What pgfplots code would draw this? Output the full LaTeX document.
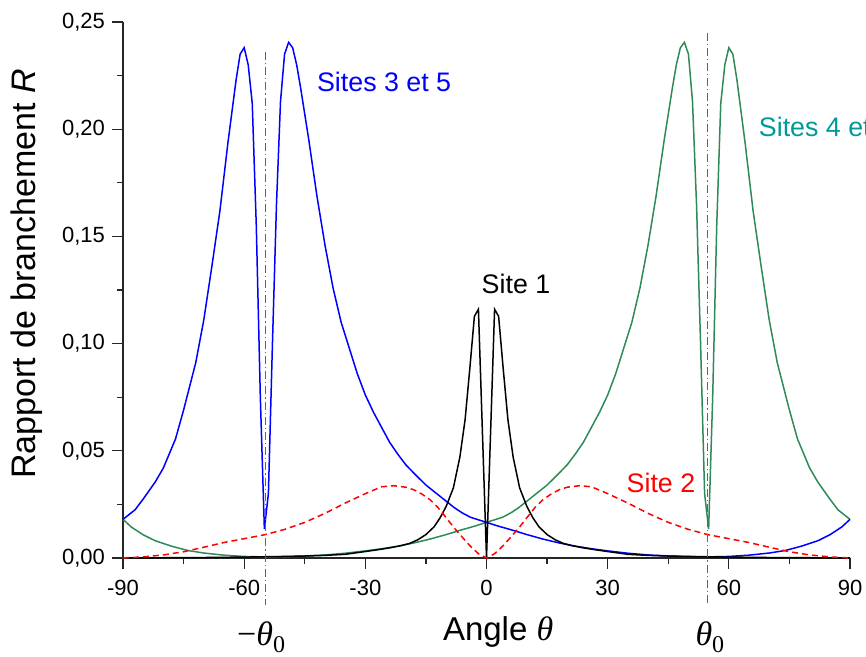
\documentclass[border=0pt]{standalone}
\usepackage{pgfplots}
\pgfplotsset{compat=1.18}
\usepackage{fontspec}
\setmainfont{Liberation Sans}
\newfontfamily\thetafont{Liberation Serif}
\definecolor{sitegreen}{RGB}{46,139,87}
\definecolor{siteteal}{RGB}{0,153,153}
\definecolor{dashgray}{RGB}{100,100,100}

\pgfplotstableread{
x y
-90 0.0180
-87 0.0225
-85 0.0275
-82 0.0355
-80 0.0420
-77 0.0555
-75 0.0690
-72 0.0910
-70 0.1110
-68 0.1360
-66 0.1620
-64 0.1940
-62 0.2230
-61 0.2350
-60 0.2380
-59 0.2300
-58 0.2120
-57 0.1550
-56 0.0750
-55 0.0135
-54 0.0300
-53 0.1000
-52 0.1650
-51 0.2130
-50 0.2350
-49 0.2405
-48 0.2380
-47 0.2300
-46 0.2190
-44 0.1950
-42 0.1690
-40 0.1460
-38 0.1260
-36 0.1100
-34 0.0980
-32 0.0860
-30 0.0760
-28 0.0680
-26 0.0610
-24 0.0540
-22 0.0485
-20 0.0435
-18 0.0396
-15 0.0340
-12 0.0295
-10 0.0265
-8 0.0235
-6 0.0210
-4 0.0190
-2 0.0178
0 0.0166
3 0.0148
6 0.0132
10 0.0109
14 0.0088
18 0.0070
22 0.0055
26 0.0043
30 0.0033
35 0.0022
40 0.0014
45 0.0009
50 0.0006
55 0.0005
60 0.0007
65 0.0013
70 0.0023
74 0.0035
78 0.0055
82 0.0080
85 0.0108
88 0.0145
90 0.0180
}\blue

\pgfplotstableread{
x y
-90 0.0180
-88 0.0145
-85 0.0108
-82 0.0080
-78 0.0055
-74 0.0035
-70 0.0023
-65 0.0013
-60 0.0007
-55 0.0005
-50 0.0006
-45 0.0009
-40 0.0014
-35 0.0022
-30 0.0033
-26 0.0043
-22 0.0055
-18 0.0070
-14 0.0088
-10 0.0109
-6 0.0132
-3 0.0148
0 0.0166
2 0.0178
4 0.0190
6 0.0210
8 0.0235
10 0.0265
12 0.0295
15 0.0340
18 0.0396
20 0.0435
22 0.0485
24 0.0540
26 0.0610
28 0.0680
30 0.0760
32 0.0860
34 0.0980
36 0.1100
38 0.1260
40 0.1460
42 0.1690
44 0.1950
46 0.2190
47 0.2300
48 0.2380
49 0.2405
50 0.2350
51 0.2130
52 0.1650
53 0.1000
54 0.0300
55 0.0135
56 0.0750
57 0.1550
58 0.2120
59 0.2300
60 0.2380
61 0.2350
62 0.2230
64 0.1940
66 0.1620
68 0.1360
70 0.1110
72 0.0910
75 0.0690
77 0.0555
80 0.0420
82 0.0355
85 0.0275
87 0.0225
90 0.0180
}\green

\pgfplotstableread{
x y
-90 0.0000
-80 0.0001
-70 0.0002
-60 0.0004
-50 0.0007
-45 0.0009
-40 0.0012
-35 0.0017
-30 0.0030
-27 0.0038
-24 0.0047
-21 0.0058
-19 0.0068
-17 0.0085
-15 0.0109
-13 0.0145
-11.5 0.0187
-10 0.0240
-8.2 0.0327
-6.6 0.0470
-5.3 0.0645
-4.1 0.0890
-3 0.1127
-2 0.1160
0 0.0000
2 0.1160
3 0.1127
4.1 0.0890
5.3 0.0645
6.6 0.0470
8.2 0.0327
10 0.0240
11.5 0.0187
13 0.0145
15 0.0109
17 0.0085
19 0.0068
21 0.0058
24 0.0047
27 0.0038
30 0.0030
35 0.0017
40 0.0012
45 0.0009
50 0.0007
60 0.0004
70 0.0002
80 0.0001
90 0.0000
}\black

\pgfplotstableread{
x y
-90 0.0000
-85 0.0005
-80 0.0014
-75 0.0029
-70 0.0050
-65 0.0072
-60 0.0090
-55 0.0108
-50 0.0133
-45 0.0166
-40 0.0208
-35 0.0256
-30 0.0300
-26 0.0332
-23 0.0337
-20 0.0330
-18 0.0318
-16 0.0298
-14 0.0272
-12 0.0235
-10 0.0188
-8 0.0140
-6 0.0097
-4 0.0055
-2 0.0020
0 0.0000
2 0.0020
4 0.0055
6 0.0097
8 0.0140
10 0.0188
12 0.0235
14 0.0272
16 0.0298
18 0.0318
20 0.0330
23 0.0337
26 0.0332
30 0.0300
35 0.0256
40 0.0208
45 0.0166
50 0.0133
55 0.0108
60 0.0090
65 0.0072
70 0.0050
75 0.0029
80 0.0014
85 0.0005
90 0.0000
}\red

\begin{document}
\begin{tikzpicture}
\begin{axis}[
    scale only axis,
    width=363.5pt, height=268pt,
    xmin=-90, xmax=90, ymin=0, ymax=0.25,
    axis lines*=left,
    axis line style={line width=0.6pt, black!85},
    xtick={-90,-60,-30,0,30,60,90},
    minor xtick={-75,-45,-15,15,45,75},
    xticklabels={-90,-60,-30,0,30,60,90},
    ytick={0,0.05,0.1,0.15,0.2,0.25},
    minor ytick={0.025,0.075,0.125,0.175,0.225},
    yticklabels={{0,00},{0,05},{0,10},{0,15},{0,20},{0,25}},
    tick align=outside,
    major tick length=5.5pt, minor tick length=3pt,
    tick style={line width=0.6pt, black!85},
    ticklabel style={font=\fontsize{11}{13}\selectfont},
    xticklabel style={yshift=-2pt},
    xlabel={Angle {\thetafont\itshape\fontsize{17}{20}\selectfont θ}},
    xlabel style={at={(rel axis cs:0.516,-0.138)}, anchor=center, font=\fontsize{16.5}{20}\selectfont},
    ylabel={Rapport de branchement \textit{R}},
    ylabel style={at={(rel axis cs:-0.132,0.53)}, anchor=center, font=\fontsize{17}{20}\selectfont},
    clip=false,
]
\addplot[sitegreen, line width=0.75pt] table {\green};
\addplot[blue, line width=0.75pt] table {\blue};
\addplot[black, line width=0.75pt] table {\black};
\addplot[red, line width=0.75pt, dash pattern=on 3pt off 2pt] table {\red};

\draw[dashgray, line width=0.5pt, dash pattern=on 4pt off 1.5pt on 0.6pt off 1.5pt]
    (axis cs:-54.74,0.236) -- (axis cs:-54.74,-0.022);
\draw[dashgray, line width=0.5pt, dash pattern=on 4pt off 1.5pt on 0.6pt off 1.5pt]
    (axis cs:54.74,0.245) -- (axis cs:54.74,-0.022);

\node[anchor=west, blue, font=\fontsize{13.4}{16}\selectfont] at (axis cs:-43.7,0.222) {Sites 3 et 5};
\node[anchor=west, siteteal, font=\fontsize{13.4}{16}\selectfont] at (axis cs:65.7,0.201) {Sites 4 et 6};
\node[black, font=\fontsize{13.4}{16}\selectfont] at (axis cs:7.3,0.1278) {Site 1};
\node[red, font=\fontsize{13.4}{16}\selectfont] at (axis cs:43.2,0.035) {Site 2};

\node[font=\thetafont\fontsize{17}{20}\selectfont] at (axis cs:-55.8,-0.0368)
    {−\textit{θ}\raisebox{-0.45ex}{\fontsize{12}{14}\selectfont 0}};
\node[font=\thetafont\fontsize{17}{20}\selectfont] at (axis cs:55.3,-0.0368)
    {\textit{θ}\raisebox{-0.45ex}{\fontsize{12}{14}\selectfont 0}};

\coordinate (bbsw) at (rel axis cs:-0.1692,-0.1847);
\coordinate (bbne) at (rel axis cs:1.022,1.041);
\end{axis}
\pgfresetboundingbox
\path (bbsw) rectangle (bbne);
\end{tikzpicture}
\end{document}
